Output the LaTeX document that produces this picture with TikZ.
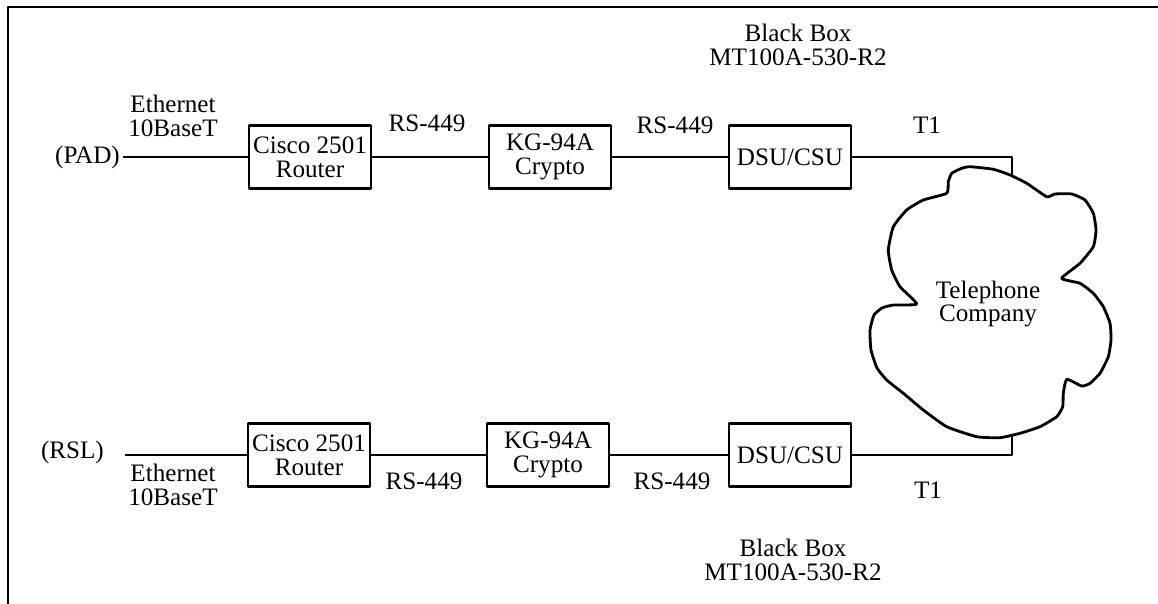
\documentclass[tikz,border=0pt]{standalone}
\usepackage{fontspec}
\setmainfont{Liberation Serif}
\usetikzlibrary{calc}
\tikzset{unit/.style={draw,line width=1.6pt,minimum width=2.44cm,minimum height=1.26cm,align=center,inner sep=1pt},
  lbl/.style={align=center,inner sep=1pt}}

\begin{document}
\begin{tikzpicture}[x=0.02cm,y=-0.02cm,line width=1.6pt,line join=round,font=\fontsize{14.3}{13.4}\selectfont]
\useasboundingbox (0,0) rectangle (1158,604);
\draw[line width=1.6pt] (1158,7) -- (8,7) -- (8,604);
% --- upper link: PAD side
\node[unit] (rtrA) at (310,157) {Cisco 2501\\Router};
\node[unit] (cryA) at (550,157) {KG-94A\\Crypto};
\node[unit] (dsuA) at (790,157) {DSU/CSU};
\node[lbl,anchor=east] (pad) at (123,157) {(PAD)};
\node[lbl] (ethA) at (173,116) {Ethernet\\10BaseT};
\node[lbl] (rsA1) at (427,123) {RS-449};
\node[lbl] (rsA2) at (675,125) {RS-449};
\node[lbl] (t1A) at (927,125) {T1};
\node[lbl] (bbA) at (798,45) {Black Box\\MT100A-530-R2};
\coordinate (cornerA) at (1012,157); \coordinate (cloudA) at (1012,176);
\draw (pad.east) -- (rtrA.west); \draw (rtrA) -- (cryA); \draw (cryA) -- (dsuA);
\draw (dsuA.east) -- (cornerA) -- (cloudA);
% --- lower link: RSL side
\node[unit] (rtrB) at (309,455) {Cisco 2501\\Router};
\node[unit] (cryB) at (548,455) {KG-94A\\Crypto};
\node[unit] (dsuB) at (790,455) {DSU/CSU};
\node[lbl,anchor=east] (rsl) at (107,452) {(RSL)};
\coordinate (rslEnd) at (125,455);
\node[lbl] (ethB) at (173,485) {Ethernet\\10BaseT};
\node[lbl] (rsB1) at (424,481) {RS-449};
\node[lbl] (rsB2) at (672,481) {RS-449};
\node[lbl] (t1B) at (928,490) {T1};
\node[lbl] (bbB) at (793,560) {Black Box\\MT100A-530-R2};
\coordinate (cornerB) at (1012,455); \coordinate (cloudB) at (1012,435);
\draw (rslEnd) -- (rtrB.west); \draw (rtrB) -- (cryB); \draw (cryB) -- (dsuB);
\draw (dsuB.east) -- (cornerB) -- (cloudB);
% --- the telephone company cloud
\draw plot[smooth cycle,tension=0.3] coordinates {(946.7,193.3) (948.3,181.7) (951.7,173.3) (961.7,168.3) (970,166.7)
  (993.3,169.3) (1010,175) (1026.7,183.3) (1046.7,196.7) (1055,194) (1071.7,194) (1085,200) (1093.3,213.3)
  (1096,230) (1093.3,246.7) (1080,263.3) (1061.7,278.3) (1080,283.3) (1093.3,293.3) (1103.3,306.7)
  (1110,323.3) (1111,340) (1108.3,356.7) (1100,373.3) (1090,383.3) (1081.7,386) (1066.7,379.3)
  (1063.3,393.3) (1062.7,406.7) (1056.7,416.7) (1040,426.7) (1020,433.3) (1000,437.7) (976.7,436.7)
  (946.7,426.7) (923.3,410) (903.3,393.3) (886.7,380) (877,368) (871,350) (870,330) (874,315)
  (882,308) (893.3,305) (916.7,304) (900,286.7) (891.7,270) (888.3,250) (893.3,226.7) (906.7,210) (923.3,200)};
\node[lbl] (telco) at (988,304) {Telephone\\Company};
\end{tikzpicture}
\end{document}
